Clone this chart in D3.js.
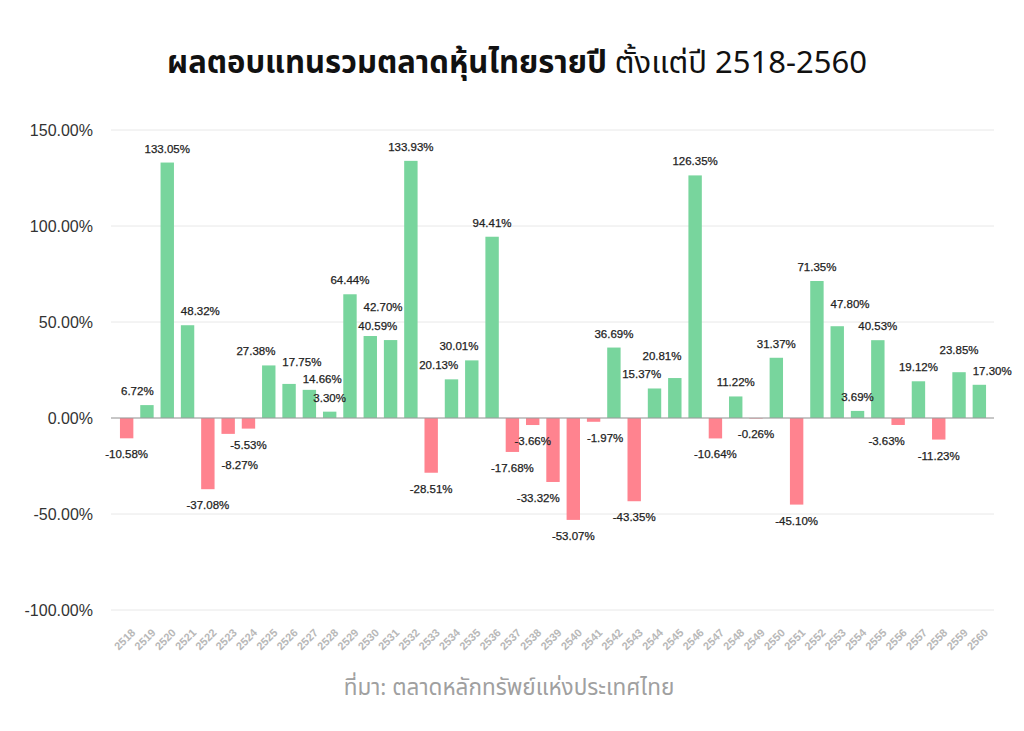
<!DOCTYPE html>
<html>
<head>
<meta charset="utf-8">
<script src="https://cdn.jsdelivr.net/npm/d3@7"></script>
<style>
  body { margin: 0; background: #fff; }
  svg { display: block; }
</style>
</head>
<body>
<svg id="chart"></svg>
<script>
// ปี พ.ศ. และผลตอบแทนรวม (%)
const years = [
  '2518', '2519', '2520', '2521', '2522', '2523', '2524', '2525', '2526', '2527',
  '2528', '2529', '2530', '2531', '2532', '2533', '2534', '2535', '2536', '2537',
  '2538', '2539', '2540', '2541', '2542', '2543', '2544', '2545', '2546', '2547',
  '2548', '2549', '2550', '2551', '2552', '2553', '2554', '2555', '2556', '2557',
  '2558', '2559', '2560',
]
const returns = [
  -10.58, 6.72, 133.05, 48.32, -37.08, -8.27, -5.53, 27.38, 17.75, 14.66,
  3.30, 64.44, 42.70, 40.59, 133.93, -28.51, 20.13, 30.01, 94.41, -17.68,
  -3.66, -33.32, -53.07, -1.97, 36.69, -43.35, 15.37, 20.81, 126.35, -10.64,
  11.22, -0.26, 31.37, -45.10, 71.35, 47.80, 3.69, 40.53, -3.63, 19.12,
  -11.23, 23.85, 17.30,
]
const yTicks = [-100, -50, 0, 50, 100, 150]

const titleBold = 'ผลตอบแทนรวมตลาดหุ้นไทยรายปี'
const titleRest = ' ตั้งแต่ปี 2518-2560'
const sourceText = 'ที่มา: ตลาดหลักทรัพย์แห่งประเทศไทย'

const width = 1024
const height = 731
const POS = '#78D59D'
const NEG = '#FF838F'
const LABEL_FONT = "'Liberation Sans', Arial, Helvetica, sans-serif"
const THAI_FONT = "'Noto Sans Thai', 'Noto Sans', 'DejaVu Sans', sans-serif"

const pct = v => d3.format('.2f')(v).replace('−', '-') + '%'
const data = years.map((y, i) => ({ year: y, value: returns[i] }))

const svg = d3.select('#chart').attr('width', width).attr('height', height)

// ─── สเกล ───
const x = d3.scaleBand().domain(years).range([116.5, 989.5])
  .paddingInner(0.34).paddingOuter(0.17)
const y = d3.scaleLinear().domain([-100, 150]).range([610, 130])

// ─── หัวเรื่อง ───
const title = svg.append('text')
  .attr('x', width / 2 + 5).attr('y', 73)
  .attr('text-anchor', 'middle')
  .attr('font-family', THAI_FONT)
  .attr('font-size', '31px')
  .attr('fill', '#111')
title.append('tspan').attr('font-weight', 'bold').text(titleBold)
title.append('tspan').attr('font-weight', 'normal').text(titleRest)

// ─── เส้นกริดและแกน Y ───
svg.append('g')
  .selectAll('line')
  .data(yTicks)
  .join('line')
  .attr('x1', 111).attr('x2', 994)
  .attr('y1', d => y(d)).attr('y2', d => y(d))
  .attr('stroke', '#e8e8e8')
  .attr('stroke-width', 1)

const yAxis = d3.axisLeft(y).tickValues(yTicks).tickSize(0).tickPadding(0)
  .tickFormat(pct)
svg.append('g')
  .attr('transform', 'translate(93,0)')
  .call(yAxis)
  .call(g => g.select('.domain').remove())
  .call(g => g.selectAll('.tick text')
    .attr('fill', '#333')
    .attr('font-size', '16px')
    .attr('font-family', LABEL_FONT))

// ─── แกน X (ป้ายเอียง 45 องศา) ───
svg.append('g')
  .selectAll('text')
  .data(years)
  .join('text')
  .attr('transform', d => `translate(${x(d) + x.bandwidth() / 2 + 4},${628}) rotate(-45)`)
  .attr('text-anchor', 'end')
  .attr('dy', '0.7em')
  .attr('font-size', '11px')
  .attr('font-weight', 'bold')
  .attr('font-family', LABEL_FONT)
  .attr('fill', '#b8b8b8')
  .text(d => d)

// ─── แท่ง ───
svg.append('g')
  .selectAll('rect')
  .data(data)
  .join('rect')
  .attr('x', d => x(d.year))
  .attr('width', x.bandwidth())
  .attr('y', d => y(Math.max(0, d.value)))
  .attr('height', d => Math.abs(y(d.value) - y(0)))
  .attr('fill', d => d.value >= 0 ? POS : NEG)

// เส้นศูนย์ทับแท่ง
svg.append('line')
  .attr('x1', 111).attr('x2', 994)
  .attr('y1', y(0)).attr('y2', y(0))
  .attr('stroke', '#9a9a9a').attr('stroke-width', 1)

// ─── ป้ายค่า (หลบแท่งข้างเคียงและป้ายอื่น, วนปรับหลายรอบ) ───
const fs = 11.5
const barBoxes = data.map(d => ({
  x0: x(d.year), x1: x(d.year) + x.bandwidth(),
  y0: y(Math.max(0, d.value)), y1: y(Math.min(0, d.value)),
}))

const overlap = (a, b, pad) => {
  const w = Math.min(a.x1, b.x1 + pad) - Math.max(a.x0, b.x0 - pad)
  const h = Math.min(a.y1, b.y1 + pad) - Math.max(a.y0, b.y0 - pad)
  return w > 0 && h > 0 ? w * h : 0
}

const labels = svg.append('g')
  .selectAll('text')
  .data(data)
  .join('text')
  .attr('font-size', fs + 'px')
  .attr('font-family', LABEL_FONT)
  .attr('fill', '#222')
  .attr('stroke', '#222').attr('stroke-width', 0.25)
  .text(d => pct(d.value))

const widths = labels.nodes().map(n => n.getComputedTextLength())

const candidatesFor = i => {
  const b = barBoxes[i]
  const tw = widths[i]
  const cx = (b.x0 + b.x1) / 2
  const out = []
  ;[0, -3, 8, 15].forEach((lift, li) => {
    const base = data[i].value >= 0 ? b.y0 - 10 - lift : b.y1 + 20 + lift
    ;[
      { anchor: 'middle', x: cx, x0: cx - tw / 2 },
      { anchor: 'start', x: b.x0, x0: b.x0 },
      { anchor: 'end', x: b.x1, x0: b.x1 - tw },
    ].forEach((c, k) => {
      out.push({
        ...c, base, cost: k * 0.5 + li * 1.5,
        box: { x0: c.x0, x1: c.x0 + tw, y0: base - fs * 0.95, y1: base + fs * 0.2 },
      })
    })
  })
  return out
}

const chosen = data.map((d, i) => candidatesFor(i)[0])
for (let pass = 0; pass < 8; pass++) {
  data.forEach((d, i) => {
    let best = null
    candidatesFor(i).forEach(c => {
      let score = c.cost
      barBoxes.forEach((o, j) => { if (j !== i) score += overlap(c.box, o, 3) })
      chosen.forEach((o, j) => { if (j !== i) score += 6 * overlap(c.box, o.box, 2) })
      if (!best || score < best.score) best = { ...c, score }
    })
    chosen[i] = best
  })
}

labels
  .attr('x', (d, i) => chosen[i].x)
  .attr('y', (d, i) => chosen[i].base)
  .attr('text-anchor', (d, i) => chosen[i].anchor)

// ─── ที่มา ───
svg.append('text')
  .attr('x', width / 2 - 3).attr('y', 695)
  .attr('text-anchor', 'middle')
  .attr('font-family', THAI_FONT)
  .attr('font-size', '22.5px')
  .attr('fill', '#a0a0a0')
  .text(sourceText)
</script>
</body>
</html>
